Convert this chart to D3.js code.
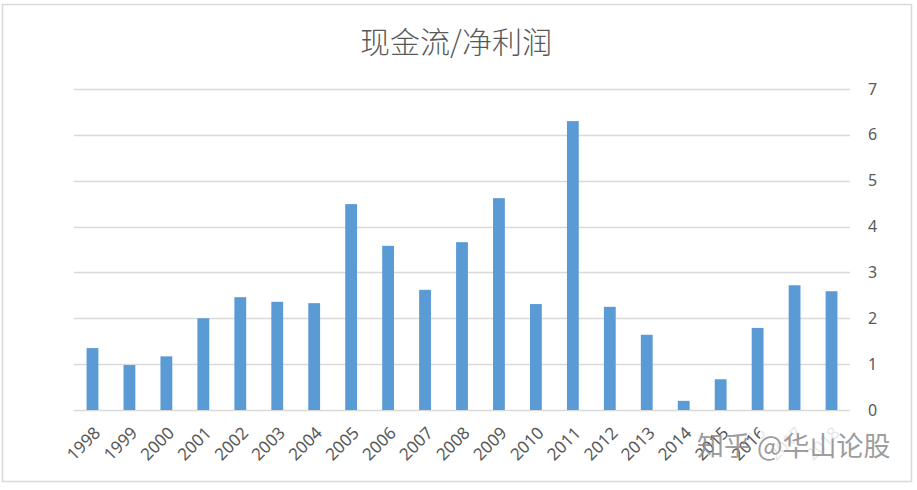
<!DOCTYPE html>
<html>
<head>
<meta charset="utf-8">
<script src="https://cdn.jsdelivr.net/npm/d3@7/dist/d3.min.js"></script>
<style>
  html, body { margin: 0; padding: 0; background: #fff; }
  svg { display: block; }
</style>
</head>
<body>
<svg id="chart" width="917" height="490"></svg>
<script>
const years = ["1998","1999","2000","2001","2002","2003","2004","2005","2006","2007","2008","2009","2010","2011","2012","2013","2014","2015","2016","2017","2018"];
const ratios = [1.35, 0.98, 1.17, 2.0, 2.46, 2.36, 2.33, 4.49, 3.58, 2.62, 3.66, 4.62, 2.31, 6.30, 2.25, 1.64, 0.20, 0.67, 1.79, 2.72, 2.59];
const yTicks = [0, 1, 2, 3, 4, 5, 6, 7];
const titleText = "现金流/净利润";
const watermarkText = "知乎 @华山论股";

(function () {
const svg = d3.select("#chart");
const pLeft = 74, pRight = 850, pTop = 89, pBottom = 410;
const labelFont = "'Noto Sans', 'Open Sans', sans-serif";

// outer border
svg.append("rect")
  .attr("x", 2.5).attr("y", 4.5)
  .attr("width", 909).attr("height", 477)
  .attr("fill", "#fff")
  .attr("stroke", "#d9d9d9").attr("stroke-width", 1.5);

const x = d3.scaleBand().domain(years).range([pLeft, pRight]).paddingInner(0.68).paddingOuter(0.34);
const y = d3.scaleLinear().domain([0, 7]).range([pBottom, pTop]);

// gridlines
svg.append("g")
  .selectAll("line")
  .data(yTicks)
  .join("line")
  .attr("x1", pLeft).attr("x2", pRight)
  .attr("y1", d => Math.round(y(d)) + 0.5)
  .attr("y2", d => Math.round(y(d)) + 0.5)
  .attr("stroke", "#d9d9d9").attr("stroke-width", 1.5);

// bars
svg.append("g")
  .selectAll("rect")
  .data(years.map((yr, i) => ({ yr, v: ratios[i] })))
  .join("rect")
  .attr("x", d => x(d.yr))
  .attr("width", x.bandwidth())
  .attr("y", d => y(d.v))
  .attr("height", d => y(0) - y(d.v))
  .attr("fill", "#5b9bd5");

// right axis
const yAxis = d3.axisRight(y).tickValues(yTicks).tickFormat(d3.format("d")).tickSize(0).tickPadding(18);
const ya = svg.append("g").attr("transform", `translate(${pRight},0)`).call(yAxis);
ya.select(".domain").remove();
ya.selectAll("text")
  .attr("font-family", labelFont)
  .attr("font-size", 16)
  .attr("fill", "#595959");

// x labels
const xAxis = d3.axisBottom(x).tickSize(0).tickPadding(0);
const xa = svg.append("g").attr("transform", `translate(0,${pBottom})`).call(xAxis);
xa.select(".domain").remove();
xa.selectAll("text")
  .attr("font-family", labelFont)
  .attr("font-size", 17)
  .attr("fill", "#595959")
  .attr("text-anchor", "end")
  .attr("dy", null)
  .attr("y", 0)
  .attr("transform", "translate(9,24) rotate(-45)");

// title
svg.append("text")
  .attr("x", 456).attr("y", 53)
  .attr("text-anchor", "middle")
  .attr("font-family", "'Noto Sans CJK SC', sans-serif")
  .attr("font-weight", 300)
  .attr("font-size", 30)
  .attr("fill", "#595959")
  .text(titleText);

// watermark
svg.append("rect")
  .attr("x", 760).attr("y", 424).attr("width", 140).attr("height", 44)
  .attr("fill", "#fff").attr("opacity", 0.85);
svg.append("text")
  .attr("x", 697).attr("y", 456)
  .attr("font-family", "'Noto Sans CJK SC', sans-serif")
  .attr("font-size", 27)
  .attr("fill", "#8c8c8c")
  .attr("opacity", 0.85)
  .text(watermarkText);
})();
</script>
</body>
</html>
